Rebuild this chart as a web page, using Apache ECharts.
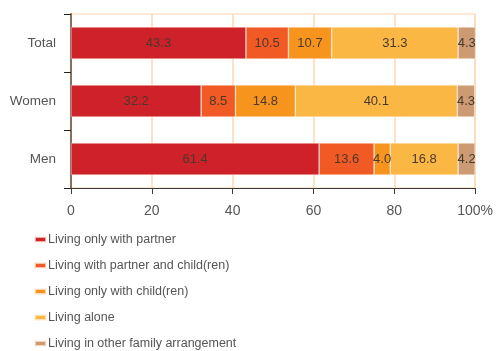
<!DOCTYPE html>
<html>
<head>
<meta charset="utf-8">
<script src="https://cdn.jsdelivr.net/npm/echarts@6/dist/echarts.min.js"></script>
<style>
  html, body { margin: 0; padding: 0; background: #fff; }
  #chart { width: 496px; height: 351px; }
</style>
</head>
<body>
<div id="chart"></div>
<script>
// Household arrangement shares (%) by group
const categories = ['Total', 'Women', 'Men'];
const seriesNames = [
  'Living only with partner',
  'Living with partner and child(ren)',
  'Living only with child(ren)',
  'Living alone',
  'Living in other family arrangement'
];
const onlyPartner      = [43.3, 32.2, 61.4];
const partnerChildren  = [10.5, 8.5, 13.6];
const onlyChildren     = [10.7, 14.8, 4.0];
const alone            = [31.3, 40.1, 16.8];
const otherArrangement = [4.3, 4.3, 4.2];
const xTickLabels = ['0', '20', '40', '60', '80', '100%'];

const seriesValues = [onlyPartner, partnerChildren, onlyChildren, alone, otherArrangement];
const colors = ['#cf2129', '#f15a24', '#f7941e', '#fbb743', '#cc9b74'];
const uiFont = '"Liberation Sans", "Roboto", sans-serif';

const chart = echarts.init(document.getElementById('chart'), null, { renderer: 'canvas' });

chart.setOption({
  animation: false,
  color: colors,
  grid: {
    left: 71, right: 20, top: 14, bottom: 163,
    show: true, borderColor: '#fdd5ab', borderWidth: 1, backgroundColor: 'transparent'
  },
  legend: {
    orient: 'vertical',
    left: 34, top: 233, height: 130,
    padding: 0,
    itemWidth: 11, itemHeight: 5, itemGap: 13,
    icon: 'rect',
    data: seriesNames,
    textStyle: { fontFamily: uiFont, fontSize: 12.5, color: '#555', padding: [0, 0, 0, -3] }
  },
  xAxis: {
    type: 'value', min: 0, max: 100, interval: 20,
    axisLine: { show: true, lineStyle: { color: '#3a3a3a', width: 1 } },
    axisTick: { show: true, length: 6, lineStyle: { color: '#3a3a3a' } },
    splitLine: { show: true, lineStyle: { color: '#fdd9b3', width: 1.5 } },
    axisLabel: {
      margin: 16, fontFamily: uiFont, fontSize: 14, color: '#555',
      formatter: (v) => xTickLabels[Math.round(v / 20)]
    }
  },
  yAxis: {
    type: 'category', data: categories, inverse: true,
    axisLine: { show: true, lineStyle: { color: '#8a7058', width: 2 } },
    axisTick: { show: true, length: 7, lineStyle: { color: '#222' } },
    axisLabel: { margin: 15, fontFamily: uiFont, fontSize: 13.5, color: '#555' }
  },
  series: seriesNames.map((name, i) => ({
    name,
    type: 'bar',
    stack: 'share',
    barWidth: 32,
    data: seriesValues[i],
    itemStyle: { borderColor: 'rgba(255,240,225,0.7)', borderWidth: 0.6 },
    label: {
      show: true, position: 'inside',
      fontFamily: uiFont, fontSize: 13, color: '#4a3a2c',
      formatter: (p) => p.value.toFixed(1)
    }
  }))
});
</script>
</body>
</html>
